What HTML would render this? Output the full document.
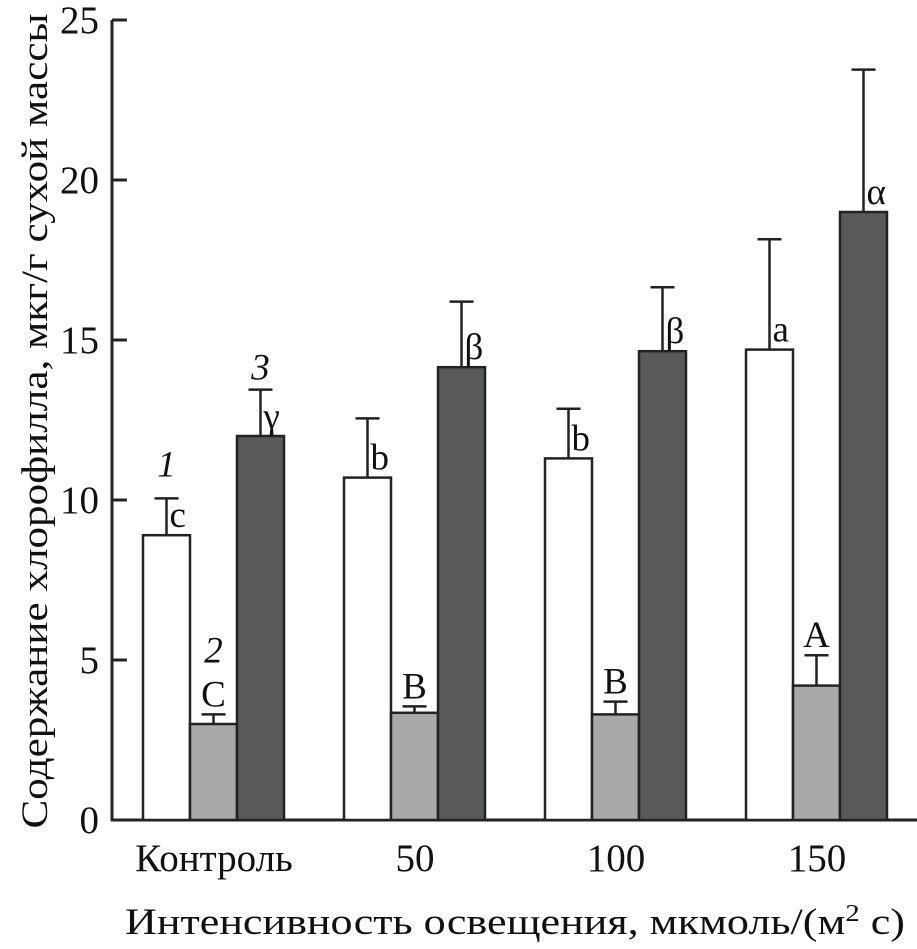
<!DOCTYPE html>
<html><head><meta charset="utf-8"><style>
html,body{margin:0;padding:0;background:#fff}
svg{display:block}
text{font-family:"Liberation Serif",serif;fill:#111}
</style></head><body>
<svg id="chart" width="917" height="949" viewBox="0 0 917 949">
<g id="axes"></g>
<g id="bars"></g>
<text transform="translate(47,421) rotate(-90)" text-anchor="middle" font-size="37" textLength="815" lengthAdjust="spacingAndGlyphs">Содержание хлорофилла, мкг/г сухой массы</text>
<text x="125" y="934" font-size="37" textLength="780" lengthAdjust="spacingAndGlyphs">Интенсивность освещения, мкмоль/(м<tspan dy="-13" font-size="24">2</tspan><tspan dy="13"> с)</tspan></text>
</svg>
<script>
const categories = ["Контроль", "50", "100", "150"];
const series1 = [8.9, 10.7, 11.3, 14.7];
const err1 = [10.05, 12.55, 12.85, 18.15];
const sig1 = ["c", "b", "b", "a"];
const series2 = [3.0, 3.35, 3.3, 4.2];
const err2 = [3.3, 3.55, 3.7, 5.15];
const sig2 = ["C", "B", "B", "A"];
const series3 = [12.0, 14.15, 14.65, 19.0];
const err3 = [13.45, 16.2, 16.65, 23.45];
const sig3 = ["γ", "β", "β", "α"];
const yTicks = [0, 5, 10, 15, 20, 25];

const NS = "http://www.w3.org/2000/svg";
const y0 = 820, pxPerUnit = 32, axisX = 112;
function yS(v){ return y0 - v * pxPerUnit; }
function groupX(i){ return 143 + i * 201; }
const barW = 47;
function mk(tag, attrs, parent){
  const e = document.createElementNS(NS, tag);
  for (const k in attrs) e.setAttribute(k, attrs[k]);
  parent.appendChild(e);
  return e;
}
const axes = document.getElementById("axes");
const bars = document.getElementById("bars");
let l = mk("line", {x1: axisX, y1: yS(25), x2: axisX, y2: y0 + 1, stroke: "#222", "stroke-width": 3}, axes);


l = mk("line", {x1: axisX - 1, y1: y0, x2: 917, y2: y0, stroke: "#222", "stroke-width": 3}, axes);


yTicks.forEach(t => {
  const tk = mk("line", {x1: axisX, y1: yS(t), x2: 127, y2: yS(t), stroke: "#222", "stroke-width": 3}, axes);
  
  
  const tl = mk("text", {x: 99, y: yS(t) + 13, "text-anchor": "end", "font-size": 39}, axes);
  tl.textContent = t;
  
  
});
categories.forEach((c, i) => {
  const tl = mk("text", {x: groupX(i) + 71, y: 871, "text-anchor": "middle", "font-size": 39}, axes);
  tl.textContent = c;
  
  
});
const seriesList = [
  {vals: series1, errs: err1, sigs: sig1, fill: "#ffffff", off: 0, name: "light"},
  {vals: series2, errs: err2, sigs: sig2, fill: "#a9a9a9", off: barW, name: "gray"},
  {vals: series3, errs: err3, sigs: sig3, fill: "#58595b", off: 2 * barW, name: "dark"}
];
seriesList.forEach((s, si) => {
  s.vals.forEach((v, i) => {
    const x = groupX(i) + s.off;
    const cx = x + barW / 2;
    const eb = mk("line", {x1: cx, y1: yS(v), x2: cx, y2: yS(s.errs[i]), stroke: "#222", "stroke-width": 2.5}, bars);
    
    
    const cap = mk("line", {x1: cx - 12, y1: yS(s.errs[i]), x2: cx + 12, y2: yS(s.errs[i]), stroke: "#222", "stroke-width": 2.5}, bars);
    
    
    const r = mk("rect", {x: x, y: yS(v), width: barW, height: y0 - yS(v), fill: s.fill, stroke: "#222", "stroke-width": 2.5}, bars);
    
    
    let lx, ly, anchor;
    if (si === 1) { lx = cx; ly = yS(s.errs[i]) - 8; anchor = "middle"; }
    else { lx = cx + 3; ly = yS(v) - 8; anchor = "start"; }
    const sl = mk("text", {x: lx, y: ly, "text-anchor": anchor, "font-size": 37}, bars);
    sl.textContent = s.sigs[i];
    
    
  });
});
const nums = [["1", groupX(0) + barW/2, yS(err1[0]) - 22], ["2", groupX(0) + barW*1.5, yS(err2[0]) - 52], ["3", groupX(0) + barW*2.5, yS(err3[0]) - 10]];
nums.forEach(n => {
  const t = mk("text", {x: n[1], y: n[2], "text-anchor": "middle", "font-size": 37, "font-style": "italic"}, bars);
  t.textContent = n[0];
  
  
});
</script>
</body></html>
